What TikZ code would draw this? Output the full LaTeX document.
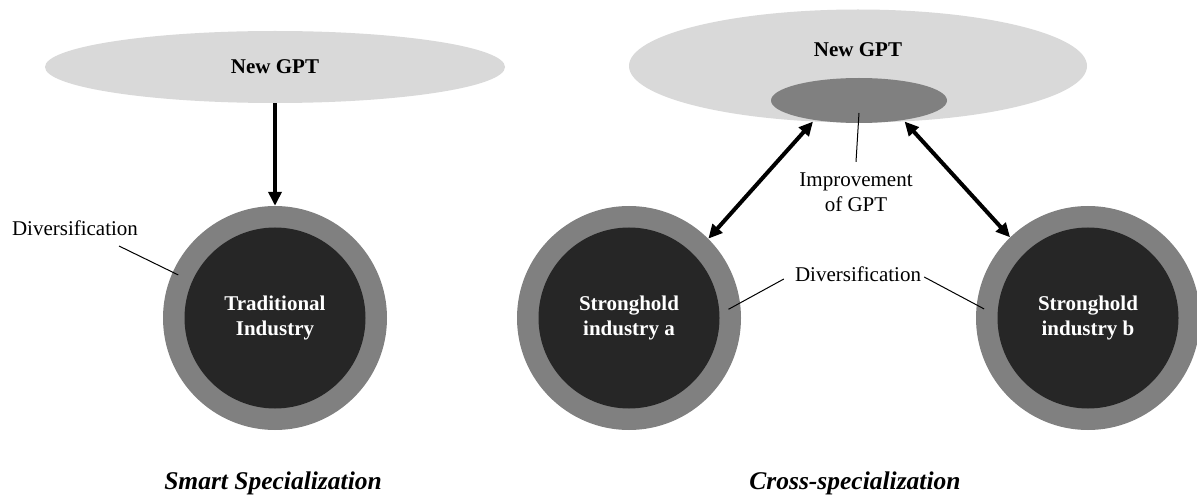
\documentclass[tikz,border=0pt]{standalone}
\usepackage{fontspec}
\setmainfont{Liberation Serif}
\usetikzlibrary{arrows.meta,shapes.geometric,calc}
\definecolor{gptfill}{HTML}{D9D9D9}
\definecolor{ringgray}{HTML}{808080}
\definecolor{coredark}{HTML}{262626}

\begin{document}
\begin{tikzpicture}[x=1pt,y=-1pt,
  txt/.style={font=\fontsize{21}{25}\selectfont, inner sep=0pt},
  boldtxt/.style={font=\fontsize{21}{25}\selectfont\bfseries, inner sep=0pt},
  gptshape/.style={ellipse, fill=gptfill, draw=none, inner sep=0pt},
  ring/.style={circle, fill=ringgray, minimum size=224pt, inner sep=0pt},
  core/.style={circle, fill=coredark, minimum size=181pt, inner sep=0pt,
    text=white, align=center, font=\fontsize{21}{25}\selectfont\bfseries},
  flow/.style={line width=4.5pt, -{Triangle[length=14pt,width=13pt]}},
  mutual/.style={line width=4pt,
    {Triangle[length=14pt,width=13pt]}-{Triangle[length=14pt,width=13pt]}},
  pointer/.style={line width=1pt},
  caption/.style={font=\fontsize{25.5}{30}\selectfont\bfseries\itshape, inner sep=0pt}
]
\useasboundingbox (0,0) rectangle (1197,497);
\fill[white] (0,0) rectangle (1197,497);

% ---------- Smart specialization ----------
\node[gptshape, minimum width=460pt, minimum height=72pt] (gptL) at (275,67) {};
\node[boldtxt] (gptLt) at (275,67) {New GPT};
\node[ring] (tradO) at (275,318) {};
\node[core] (trad) at (275,318) {Traditional\\Industry};
\draw[flow] (gptL.south) -- (tradO.north);

\node[txt] (divL) at (75,228) {Diversification};
\coordinate (divLfoot) at (119,246);
\draw[pointer] (divLfoot) -- ($(tradO.center)!0.944!(tradO.156.6)$);

\node[caption] (capL) at (273,483) {Smart Specialization};

% ---------- Cross-specialization ----------
\node[gptshape, minimum width=458pt, minimum height=113pt] (gptR) at (858,66) {};
\node[boldtxt] (gptRt) at (858,50) {New GPT};
\node[ellipse, fill=ringgray, minimum width=176pt, minimum height=45pt, inner sep=0pt]
  (impE) at (859,100.5) {};
\node[txt, align=center] (impT) at (856,192.5) {Improvement\\of GPT};
\draw[pointer] ([yshift=-12.5pt]impE.center) -- ([yshift=11pt]impT.north);

\node[ring] (aO) at (629,318) {};
\node[core] (a) at (629,318) {Stronghold\\industry a};
\node[ring] (bO) at (1088,318) {};
\node[core] (b) at (1088,318) {Stronghold\\industry b};

\draw[mutual] (gptR.231.7) -- (aO.45.7);
\draw[mutual] (gptR.310) -- (bO.134.3);

\node[txt] (divR) at (858,274) {Diversification};
\draw[pointer] ([xshift=-11pt,yshift=-5pt]divR.west) -- ($(aO.center)!0.89!(aO.5.2)$);
\draw[pointer] ([xshift=3pt,yshift=-3pt]divR.east) -- ($(bO.center)!0.93!(bO.175)$);

\node[caption] (capR) at (855,483) {Cross-specialization};
\end{tikzpicture}
\end{document}
